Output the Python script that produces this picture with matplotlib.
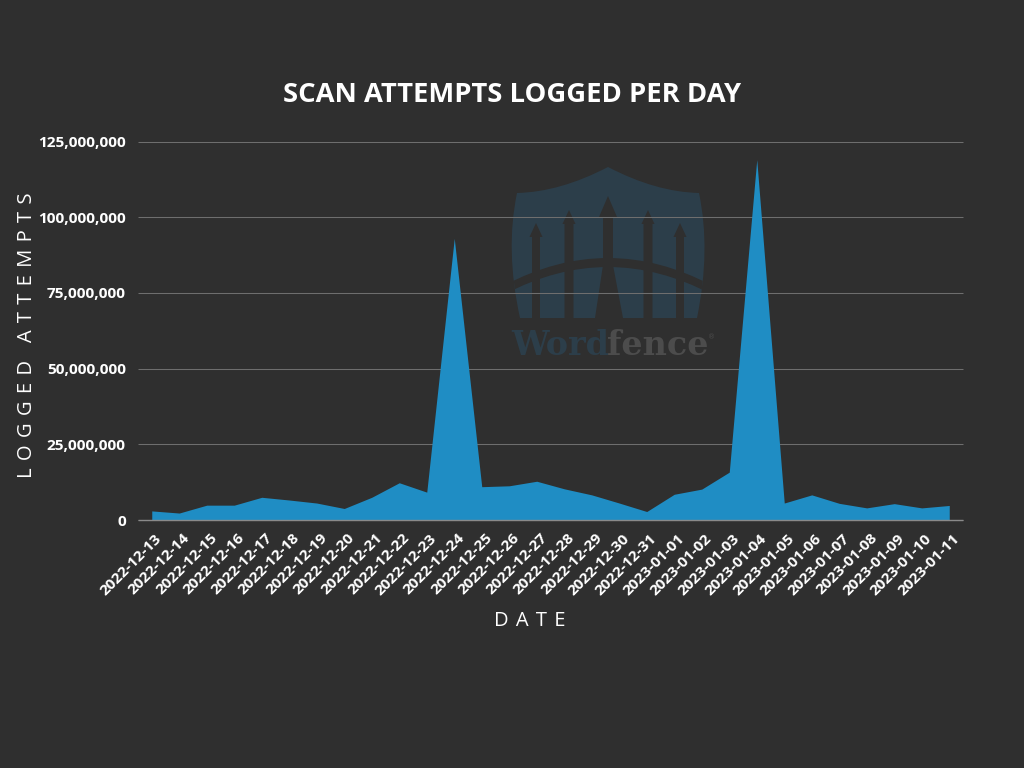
import matplotlib
matplotlib.use("Agg")
import matplotlib.pyplot as plt
from matplotlib.path import Path
from matplotlib.patches import PathPatch, Polygon
from matplotlib.ticker import FuncFormatter
from matplotlib.transforms import ScaledTranslation

dates = ["2022-12-13","2022-12-14","2022-12-15","2022-12-16","2022-12-17","2022-12-18",
         "2022-12-19","2022-12-20","2022-12-21","2022-12-22","2022-12-23","2022-12-24",
         "2022-12-25","2022-12-26","2022-12-27","2022-12-28","2022-12-29","2022-12-30",
         "2022-12-31","2023-01-01","2023-01-02","2023-01-03","2023-01-04","2023-01-05",
         "2023-01-06","2023-01-07","2023-01-08","2023-01-09","2023-01-10","2023-01-11"]
attempts = [3.0e6,2.3e6,4.9e6,4.9e6,7.5e6,6.6e6,5.6e6,3.8e6,7.5e6,12.3e6,9.2e6,93e6,
            11e6,11.3e6,12.8e6,10.3e6,8.3e6,5.6e6,2.8e6,8.5e6,10.2e6,15.8e6,119e6,5.6e6,
            8.3e6,5.5e6,4e6,5.4e6,4e6,4.8e6]
y_ticks = [0, 25e6, 50e6, 75e6, 100e6, 125e6]

BG = "#2f2f2f"
BLUE = "#1f8dc4"
SHIELD = "#2c3e4a"
W, H = 1024, 768

fig = plt.figure(figsize=(W/100, H/100), dpi=100, facecolor=BG)

# watermark, drawn in pixel space behind the chart
wm = fig.add_axes([0, 0, 1, 1], zorder=0)
wm.set_xlim(0, W); wm.set_ylim(H, 0); wm.axis("off")
C3, M, L = Path.CURVE3, Path.MOVETO, Path.LINETO
shield = Path(
    [(608,167),(560,192),(517,193),(505,250),(520,318),(697,318),(711,250),(699,193),(656,192),(608,167)],
    [M,C3,C3,C3,C3,L,C3,C3,C3,C3])
sp = PathPatch(shield, fc=SHIELD, ec="none")
wm.add_patch(sp)
def spike(cx, top, base, hw, shaft):
    p = Polygon([(cx,top),(cx+hw,base),(cx+shaft,base),(cx+shaft,318),(cx-shaft,318),(cx-shaft,base),(cx-hw,base)],
                fc=BG, ec="none")
    wm.add_patch(p); p.set_clip_path(sp)
spike(536,223,237,6.5,4)
spike(569,210,224,6.5,4.5)
spike(648,210,224,6.5,4.5)
spike(680,223,237,6.5,4)
centre = Polygon([(608,196),(617,217),(613,217),(613,265),(623,318),(595,318),(603,265),(603,217),(599,217)],
                 fc=BG, ec="none")
wm.add_patch(centre); centre.set_clip_path(sp)
arch = PathPatch(Path([(505,285),(608,231),(711,285),(711,294),(608,240),(505,294),(505,285)],
                      [M,C3,C3,L,C3,C3,L]), fc=BG, ec="none")
wm.add_patch(arch); arch.set_clip_path(sp)
wm.text(511, 355, "Word", family="DejaVu Serif", weight="bold", fontsize=24, color=SHIELD, ha="left", va="baseline")
wm.text(607, 355, "fence", family="DejaVu Serif", weight="bold", fontsize=24, color="#4c4c4c", ha="left", va="baseline")
wm.text(708, 339, "®", family="DejaVu Sans", fontsize=5, color="#4c4c4c", ha="left", va="baseline")

# chart
ax = fig.add_axes([138/W, 1-520/H, 825/W, 378.5/H], zorder=1)
ax.patch.set_alpha(0)
x = range(len(dates))
ax.fill_between(x, attempts, 0, color=BLUE, lw=0, zorder=3)
ax.set_xlim(-0.5, len(dates)-0.5)
ax.set_ylim(0, 125e6)
ax.set_yticks(y_ticks)
ax.yaxis.set_major_formatter(FuncFormatter(lambda v, _: f"{int(v):,}"))
ax.set_xticks(list(x))
ax.set_xticklabels(dates, rotation=45, ha="right", rotation_mode="anchor",
                   family="Open Sans", weight="bold", fontsize=11.1, color="white")
for lab in ax.get_yticklabels():
    lab.set_family("Open Sans"); lab.set_weight("bold"); lab.set_fontsize(11.1); lab.set_color("white")
ax.tick_params(axis="both", length=0)
ax.tick_params(axis="y", pad=8.8)
ax.tick_params(axis="x", pad=8)
shift = ScaledTranslation(3/100, 0, fig.dpi_scale_trans)
for lab in ax.get_xticklabels():
    lab.set_transform(lab.get_transform() + shift)
ax.grid(axis="y", color="#6e6e6e", lw=0.75, zorder=1)
for gl in ax.get_ygridlines():
    gl.set_clip_on(False)
    gl.set_solid_capstyle("butt")
ax.set_axisbelow(True)
for s in ax.spines.values():
    s.set_visible(False)
ax.axhline(0, color="#8a8a8a", lw=1, zorder=4, clip_on=False, solid_capstyle="butt")

fig.text(512/W, 1-95.5/H, "SCAN ATTEMPTS LOGGED PER DAY", family="Open Sans", weight="bold",
         fontsize=19.7, color="white", ha="center", va="center")
fig.text(529.5/W, 1-621/H, "D\u200a A\u200a T\u200a E", family="Open Sans", fontsize=14.5, color="white", ha="center", va="center")
fig.text(27/W, 1-335.5/H, "L\u200a O\u200a G\u200a G\u200a E\u200a D\u200a   A\u200a T\u200a T\u200a E\u200a M\u200a P\u200a T\u200a S",
         family="Open Sans", fontsize=14.6, color="white", ha="center", va="center", rotation=90)

fig.savefig("out.png", dpi=100, facecolor=BG)
